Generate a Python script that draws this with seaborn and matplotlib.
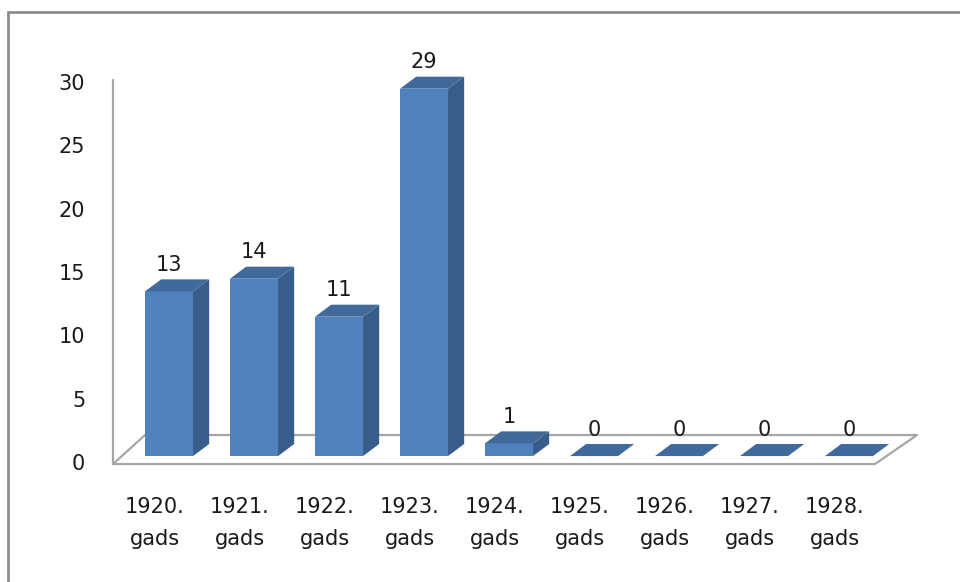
import matplotlib
matplotlib.use("Agg")
import matplotlib.pyplot as plt
from matplotlib.patches import Polygon, Rectangle
import seaborn as sns
import pandas as pd

# dati
gadi = ["1920.\ngads", "1921.\ngads", "1922.\ngads", "1923.\ngads", "1924.\ngads",
        "1925.\ngads", "1926.\ngads", "1927.\ngads", "1928.\ngads"]
skaits = [13, 14, 11, 29, 1, 0, 0, 0, 0]
y_ticks = [0, 5, 10, 15, 20, 25, 30]

df = pd.DataFrame({"gads": gadi, "skaits": skaits})

sns.set_style("white")
plt.rcParams["font.family"] = ["DejaVu Sans"]

W, H = 960, 582
fig = plt.figure(figsize=(W / 100, H / 100), dpi=100)

# asis pikseļos: x 113..917, y 82 (30) .. 462 (0)
ax = fig.add_axes([113 / W, (H - 462) / H, (917 - 113) / W, (462 - 82) / H])

front = "#4F81BD"
side = "#385D8A"
top = "#41699A"

bw = 0.565      # priekšas platums
dx, dy = 0.19, 0.95   # 3D dziļums
base = 0.47

sns.barplot(data=df, x="gads", y="skaits", color=front, width=bw,
            bottom=base, linewidth=0, saturation=1, ax=ax)

for i, v in enumerate(skaits):
    l, r = i - bw / 2, i + bw / 2
    t = base + v
    if v > 0:
        ax.add_patch(Polygon([(r, base), (r + dx, base + dy), (r + dx, t + dy), (r, t)],
                             closed=True, facecolor=side, edgecolor="none", clip_on=False))
    ax.add_patch(Polygon([(l, t), (r, t), (r + dx, t + dy), (l + dx, t + dy)],
                         closed=True, facecolor=top, edgecolor="none", clip_on=False))
    ax.text(i, t + dy + 0.35, str(v), ha="center", va="bottom", fontsize=15,
            color="#1a1a1a", clip_on=False)

x0, x1 = -0.659, 8.8
ax.set_xlim(x0, x1)
ax.set_ylim(0, 30)

# grīda un siena
grey = "#a6a6a6"
fl_front, fl_back = -0.16, 2.13
ax.plot([x0, 8.306, x1, -0.282, x0], [fl_front, fl_front, fl_back, fl_back, fl_front],
        color=grey, lw=1.6, clip_on=False, zorder=0)
ax.plot([x0, x0], [fl_front, 30.15], color=grey, lw=1.6, clip_on=False, zorder=0)

for s in ax.spines.values():
    s.set_visible(False)

ax.set_yticks(y_ticks)
ax.set_yticklabels([str(t) for t in y_ticks], fontsize=15, color="#1a1a1a")
ax.tick_params(axis="y", length=0, pad=20)

ax.set_xticks([i - 0.165 for i in range(len(gadi))])
ax.set_xticklabels(gadi, fontsize=15, color="#1a1a1a", linespacing=1.75)
ax.tick_params(axis="x", length=0, pad=25)
ax.set_xlabel("")
ax.set_ylabel("")

# ārējais rāmis
fig.patches.append(Rectangle((8 / W, -0.1), 1.2, (H - 12) / H + 0.1,
                             transform=fig.transFigure, fill=False,
                             edgecolor="#8c8c8c", lw=2))

fig.savefig("out.png", dpi=100)
